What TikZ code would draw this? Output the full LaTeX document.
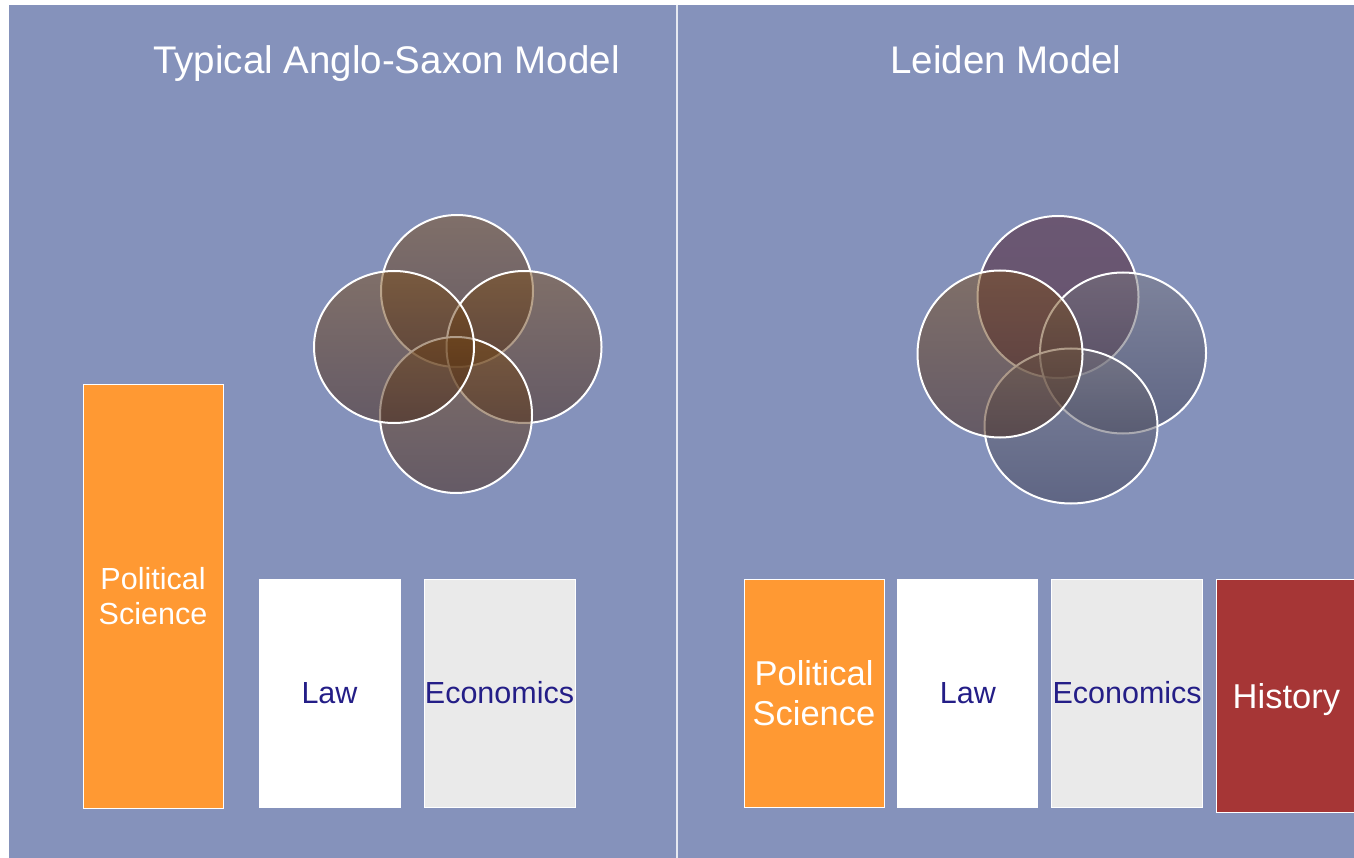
\documentclass[tikz,border=0pt]{standalone}
\usepackage{fontspec}
\setmainfont{Liberation Sans}
\usetikzlibrary{positioning,shapes.geometric}
\definecolor{slide}{RGB}{133,146,187}
\definecolor{polsci}{RGB}{255,153,51}
\definecolor{econ}{RGB}{234,234,234}
\definecolor{hist}{RGB}{166,54,54}
\definecolor{navy}{RGB}{36,30,135}
\definecolor{brownhi}{RGB}{124,78,24}
\definecolor{brownlo}{RGB}{70,36,18}
\definecolor{plumhi}{RGB}{82,30,42}
\definecolor{plumlo}{RGB}{72,22,40}
\definecolor{greyhi}{RGB}{120,118,126}
\definecolor{greylo}{RGB}{58,58,78}

\begin{document}
\begin{tikzpicture}[x=1pt,y=-1pt,
  set/.style={ellipse,draw=white,line width=2pt,fill opacity=0.5,inner sep=0pt},
  brown set/.style={set,top color=brownhi,bottom color=brownlo},
  plum set/.style={set,top color=plumhi,bottom color=plumlo},
  grey set/.style={set,top color=greyhi,bottom color=greylo},
  field/.style={draw=white,line width=0.8pt,inner sep=0pt,align=center,minimum height=228pt,
    font=\fontsize{30.5}{35}\selectfont},
  title/.style={text=white,anchor=base,font=\fontsize{38.5}{44}\selectfont}]
  \useasboundingbox (0,0) rectangle (1354,858);
  \fill[slide] (9,5) rectangle (1354,858);
  \draw[white,opacity=0.8,line width=2pt] (677,5) -- (677,858);

  % anglo-saxon side
  \node[title] (ltitle) at (386.5,74) {Typical Anglo-Saxon Model};
  \node[brown set,minimum width=152pt,minimum height=152pt] (ltop) at (457,291) {};
  \node[brown set,minimum width=155pt,minimum height=152pt] (lright) at (524,347) {};
  \node[brown set,minimum width=152pt,minimum height=156pt] (lbottom) at (456,415) {};
  \node[brown set,minimum width=160pt,minimum height=152pt] (lleft) at (394,347) {};
  \node[field,fill=polsci,text=white,minimum width=140pt,minimum height=424pt] (lpol) at (153,596) {Political\\Science};
  \node[field,fill=white,text=navy,minimum width=141pt] (llaw) at (329.5,693) {Law};
  \node[field,fill=econ,text=navy,minimum width=151pt] (lecon) at (499.5,693) {Economics};

  % leiden side
  \node[title] (rtitle) at (1006,74) {Leiden Model};
  \node[plum set,minimum width=161pt,minimum height=162pt] (rtop) at (1058,297) {};
  \node[grey set,minimum width=166pt,minimum height=161pt] (rright) at (1123,353) {};
  \node[grey set,minimum width=173pt,minimum height=155pt] (rbottom) at (1071,426) {};
  \node[brown set,minimum width=165pt,minimum height=167pt] (rleft) at (1000,354) {};
  \node[field,fill=polsci,text=white,minimum width=140pt,font=\fontsize{34.5}{40}\selectfont] (rpol) at (814,693) {Political\\[-0.5pt]Science};
  \node[field,fill=white,text=navy,minimum width=140pt] (rlaw) [right=13pt of rpol] {Law};
  \node[field,fill=econ,text=navy,minimum width=151pt] (recon) [right=13pt of rlaw] {Economics};
  \node[field,fill=hist,text=white,minimum width=140pt,minimum height=233pt,text depth=0pt,
    font=\fontsize{34.5}{40}\selectfont] (rhist) [below right=0pt and 13pt of recon.north east] {History};
\end{tikzpicture}
\end{document}
